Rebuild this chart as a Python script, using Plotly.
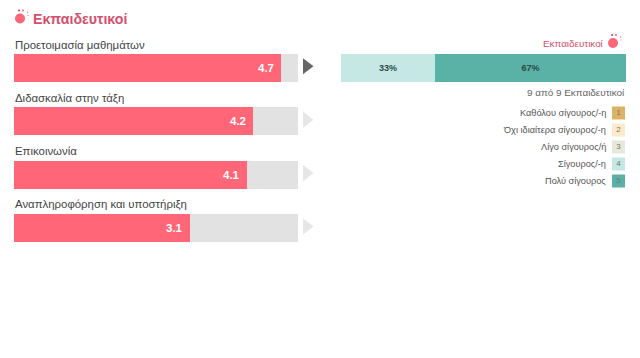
import plotly.graph_objects as go

W, H = 640, 358
TITLE = "Εκπαιδευτικοί"
categories = ["Προετοιμασία μαθημάτων", "Διδασκαλία στην τάξη", "Επικοινωνία", "Αναπληροφόρηση και υποστήριξη"]
scores = [4.7, 4.2, 4.1, 3.1]
score_max = 5
share_names = ["Σίγουρος/-η", "Πολύ σίγουρος"]
share_values = [33, 67]
share_colors = ["#c5e8e4", "#5ab1a6"]
respondents = "9 από 9 Εκπαιδευτικοί"
legend_labels = ["Καθόλου σίγουρος/-η", "Όχι ιδιαίτερα σίγουρος/-η", "Λίγο σίγουρος/ή", "Σίγουρος/-η", "Πολύ σίγουρος"]
legend_codes = ["1", "2", "3", "4", "5"]
legend_colors = ["#dcb266", "#fbeacb", "#e6e8d8", "#c5e8e4", "#5ab1a6"]
arrow_colors = ["#666666", "#e6e6e6", "#e6e6e6", "#e6e6e6"]

PINK = "#ff6678"
TITLE_PINK = "#d4506e"
FONT = "Liberation Sans"

def px(v): return v / W
def py(v): return 1 - v / H

fig = go.Figure()

# left bars
fig.add_bar(x=[score_max] * 4, y=categories, orientation="h", marker=dict(color="#e2e2e2", line_width=0),
            width=0.525, xaxis="x", yaxis="y", hoverinfo="skip", showlegend=False)
fig.add_bar(x=scores, y=categories, orientation="h", marker=dict(color=PINK, line_width=0),
            width=0.525, xaxis="x", yaxis="y", showlegend=False)
fig.add_scatter(x=[0] * 4, y=categories, mode="markers", xaxis="x2", yaxis="y2",
                marker=dict(symbol="triangle-right", size=14, color=arrow_colors, line_width=0), showlegend=False)

# right stacked bar
start = 0
for name, v, c in zip(share_names, share_values, share_colors):
    fig.add_bar(x=[v], y=["s"], base=[start], orientation="h", marker=dict(color=c, line_width=0), xaxis="x3", yaxis="y3",
                width=1, text=[f"{v}%"], textposition="inside", insidetextanchor="middle", textangle=0, name=name,
                textfont=dict(color="#2b4a47", size=9, family=FONT, weight="bold"), showlegend=False)
    start += v

# legend swatches
fig.add_scatter(x=[0] * 5, y=legend_labels, mode="markers+text", xaxis="x4", yaxis="y4",
                marker=dict(symbol="square", size=13, color=legend_colors, line_width=0),
                text=legend_codes, textposition="middle center",
                textfont=dict(size=8, color="#777777", family=FONT), showlegend=False)

fig.update_layout(
    width=W, height=H, margin=dict(l=0, r=0, t=0, b=0), paper_bgcolor="white", plot_bgcolor="white",
    barmode="overlay", bargap=0,
    xaxis=dict(domain=[px(14), px(298)], range=[0, score_max], visible=False, fixedrange=True),
    yaxis=dict(domain=[py(254.7), py(41)], type="category", categoryorder="array", categoryarray=categories,
               range=[3.5, -0.5], visible=False, fixedrange=True),
    xaxis2=dict(domain=[px(298.5), px(314.5)], range=[-1, 1], visible=False, anchor="y2", fixedrange=True),
    yaxis2=dict(domain=[py(253.2), py(39.5)], type="category", categoryorder="array", categoryarray=categories,
                range=[3.5, -0.5], visible=False, anchor="x2", fixedrange=True),
    xaxis3=dict(domain=[px(341), px(626)], range=[0, 100], visible=False, anchor="y3", fixedrange=True),
    yaxis3=dict(domain=[py(82), py(54)], range=[-0.5, 0.5], type="category", visible=False, anchor="x3", fixedrange=True),
    xaxis4=dict(domain=[px(612), px(625)], range=[-1, 1], visible=False, anchor="y4", fixedrange=True),
    yaxis4=dict(domain=[py(189.5), py(104.5)], type="category", categoryorder="array", categoryarray=legend_labels,
                range=[4.5, -0.5], visible=False, anchor="x4", fixedrange=True),
)

anns = []
def text(x, y, s, size, color, anchor="left", bold=False):
    anns.append(dict(x=px(x), y=py(y), xref="paper", yref="paper", text=f"<b>{s}</b>" if bold else s, showarrow=False,
                     xanchor=anchor, yanchor="middle", align=anchor, borderpad=0,
                     font=dict(size=size, color=color, family=FONT)))

text(32, 18.5, TITLE, 14.2, TITLE_PINK, bold=True)
for i, c in enumerate(categories):
    text(13.5, 44.5 + i * 53.33, c, 11.4, "#444444")
text(604.5, 44, TITLE, 9.85, TITLE_PINK, anchor="right")
text(625.5, 92, respondents, 9.9, "#666666", anchor="right")
for i, l in enumerate(legend_labels):
    text(606.5, 113 + i * 17, l, 9.2, "#555555", anchor="right")
for s, c in zip(scores, categories):
    anns.append(dict(x=s, y=c, xref="x", yref="y", text=f"<b>{s:.1f}</b>", showarrow=False, xanchor="right",
                     yanchor="middle", xshift=-6, borderpad=0, font=dict(size=11.5, color="white", family=FONT)))
fig.update_layout(annotations=anns)

def icon(x0, y0, s):
    shp = []
    def circ(cx, cy, r, col):
        shp.append(dict(type="circle", xref="paper", yref="paper", x0=px(x0 + (cx - r) * s), x1=px(x0 + (cx + r) * s),
                        y0=py(y0 + (cy + r) * s), y1=py(y0 + (cy - r) * s), fillcolor=col, line_width=0))
    circ(5.5, 10.5, 5, PINK)
    circ(4.5, 2.5, 1.1, "#bb5566")
    circ(8.5, 2.5, 1.0, PINK)
    circ(13, 4.5, 0.7, PINK)
    circ(13.5, 7.5, 0.6, PINK)
    return shp

fig.update_layout(shapes=icon(14.5, 8, 1.0) + icon(607.5, 32.5, 1.0))
fig.write_html("out.html", config={"displayModeBar": False}, post_script="document.body.style.margin='0';")
